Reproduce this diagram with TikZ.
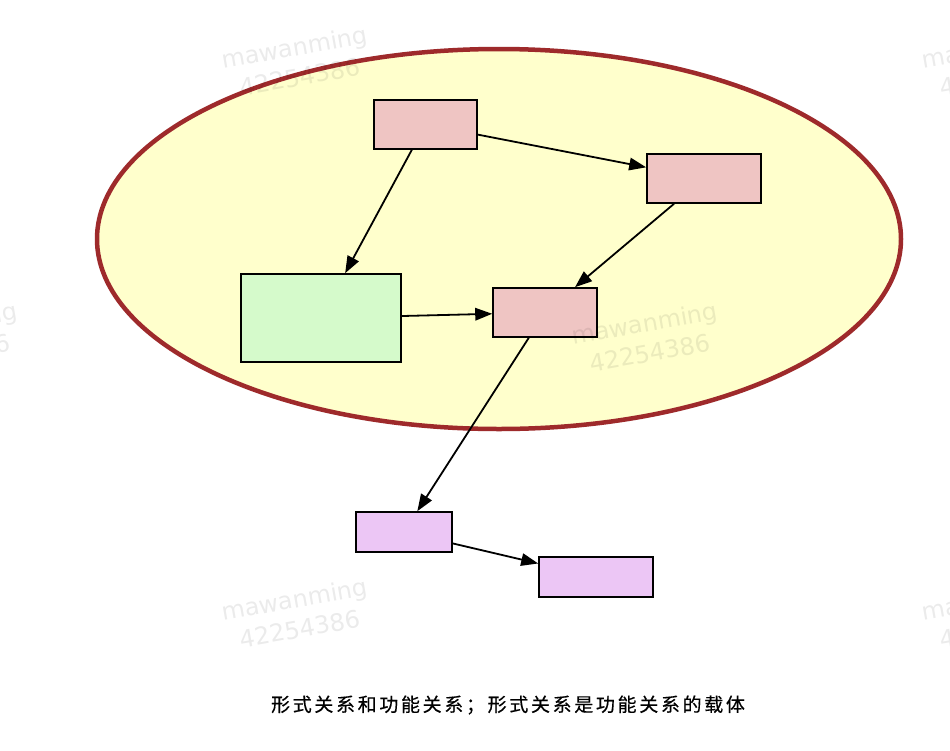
\documentclass[tikz,border=0pt]{standalone}
\usepackage{fontspec}
\newfontfamily\cjk[LetterSpace=14,FakeBold=0.4]{Noto Sans CJK SC}
\newfontfamily\wmfont{DejaVu Sans}
\usetikzlibrary{arrows.meta,shapes.geometric}
\definecolor{pinkbox}{HTML}{EFC5C3}
\definecolor{greenbox}{HTML}{D5FACB}
\definecolor{purplebox}{HTML}{ECC6F5}
\definecolor{ellfill}{HTML}{FFFFCC}
\definecolor{elldraw}{HTML}{9E2A2B}
\tikzset{
  box/.style={draw=black, line width=1.6pt, inner sep=0pt, rectangle},
  conn/.style={draw=black, line width=1.8pt, -{Triangle[length=17pt,width=12.5pt]}},
  wm/.style={text=black, text opacity=0.08, font=\wmfont\fontsize{24}{30}\selectfont, rotate=10, inner sep=0pt, align=center}
}
\begin{document}
\begin{tikzpicture}[x=1pt,y=-1pt]
\useasboundingbox[fill=white] (0,0) rectangle (950,750);
% container ellipse
\node[ellipse, draw=elldraw, fill=ellfill, line width=4.5pt, minimum width=804pt, minimum height=380pt, inner sep=0pt] (ell) at (499,239) {};
% boxes
\node[box, fill=pinkbox, minimum width=103pt, minimum height=49pt] (A) at (425.5,124.5) {};
\node[box, fill=pinkbox, minimum width=114pt, minimum height=49pt] (B) at (704,178.5) {};
\node[box, fill=greenbox, minimum width=160pt, minimum height=88pt] (C) at (321,318) {};
\node[box, fill=pinkbox, minimum width=104pt, minimum height=49pt] (D) at (545,312.5) {};
\node[box, fill=purplebox, minimum width=96pt, minimum height=40pt] (E) at (404,532) {};
\node[box, fill=purplebox, minimum width=114pt, minimum height=40pt] (F) at (596,577) {};
% connectors
\draw[conn] (A) -- (C);
\draw[conn] (A) -- (B);
\draw[conn] (B) -- (D);
\draw[conn] (C) -- (D);
\draw[conn] (D) -- (E);
\draw[conn] (E) -- (F);
% caption
\node[inner sep=0pt, font=\cjk\fontsize{19}{19}\selectfont] (cap) at (508,705) {形式关系和功能关系；形式关系是功能关系的载体};
% watermarks
\node[wm] (w1) at (297,62) {mawanming\\42254386};
\node[wm] (w2) at (997,62) {mawanming\\42254386};
\node[wm] (w3) at (-53,338) {mawanming\\42254386};
\node[wm] (w4) at (647,338) {mawanming\\42254386};
\node[wm] (w5) at (297,614) {mawanming\\42254386};
\node[wm] (w6) at (997,614) {mawanming\\42254386};
\end{tikzpicture}
\end{document}
